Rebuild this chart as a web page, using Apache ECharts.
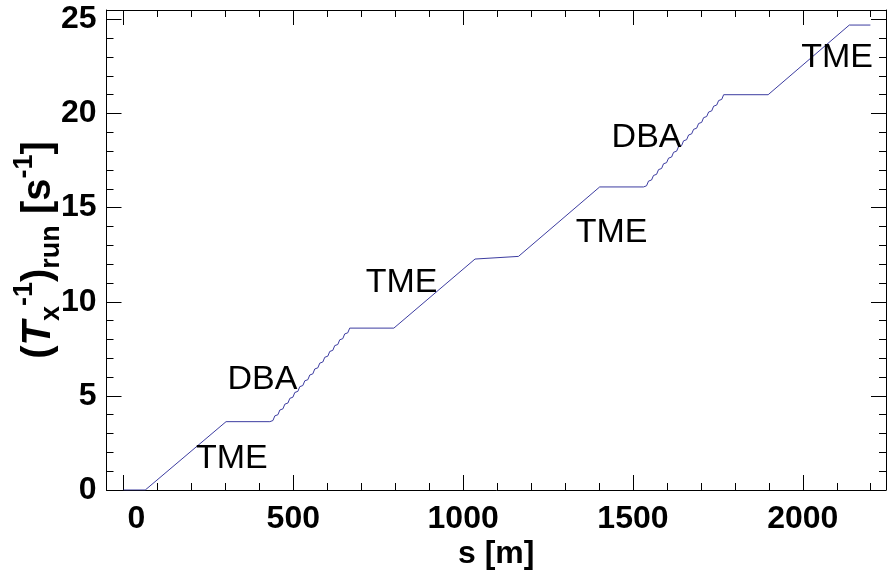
<!DOCTYPE html>
<html>
<head>
<meta charset="utf-8">
<script src="https://cdn.jsdelivr.net/npm/echarts@6/dist/echarts.min.js"></script>
<style>
html,body{margin:0;padding:0;background:#fff;}
#chart{width:892px;height:578px;}
</style>
</head>
<body>
<div id="chart"></div>
<script>
// path length s [m]
const sValues = [
  0, 64, 302, 431,
  440, 445.7, 454.7, 460.4, 469.4, 475.1, 484.1, 489.8, 498.8, 504.4, 513.4, 519.1,
  528.1, 533.8, 542.8, 548.5, 557.5, 563.2, 572.2, 577.9, 586.9, 592.6, 601.6, 607.3,
  616.3, 622.0, 631.0, 636.7, 645.7, 651.3, 660.3, 666,
  796, 1035, 1163, 1402, 1531,
  1540, 1545.8, 1554.8, 1560.5, 1569.5, 1575.3, 1584.3, 1590.0, 1599.0, 1604.8, 1613.8, 1619.5,
  1628.5, 1634.3, 1643.3, 1649.0, 1658.0, 1663.8, 1672.8, 1678.5, 1687.5, 1693.3, 1702.3, 1708.0,
  1717.0, 1722.8, 1731.8, 1737.5, 1746.5, 1752.3, 1761.3, 1767,
  1898, 2137, 2199
];
// running (T_x^-1) [s^-1]
const tValues = [
  0, 0, 3.63, 3.63,
  3.69, 3.94, 4.00, 4.25, 4.31, 4.56, 4.62, 4.87, 4.93, 5.18, 5.24, 5.49,
  5.55, 5.80, 5.86, 6.11, 6.17, 6.43, 6.49, 6.74, 6.80, 7.05, 7.11, 7.36,
  7.42, 7.67, 7.73, 7.98, 8.04, 8.29, 8.35, 8.60,
  8.60, 12.27, 12.41, 16.10, 16.10,
  16.16, 16.41, 16.47, 16.71, 16.77, 17.02, 17.08, 17.33, 17.39, 17.63, 17.69, 17.94,
  18.00, 18.24, 18.30, 18.55, 18.61, 18.86, 18.92, 19.16, 19.22, 19.47, 19.53, 19.78,
  19.84, 20.08, 20.14, 20.39, 20.45, 20.69, 20.75, 21.00,
  21.00, 24.70, 24.70
];
// annotation texts and their anchor positions (data units)
const labelTexts = ['TME', 'DBA', 'TME', 'TME', 'DBA', 'TME'];
const labelS = [319, 409, 819, 1437, 1540, 2101];
const labelT = [1.65, 5.85, 11.04, 13.67, 18.71, 22.96];

const xMin = -50, xMax = 2245;
const yMin = 0, yMax = 25.5;

const chart = echarts.init(document.getElementById('chart'), null, {renderer: 'canvas'});
const FONT = 'Liberation Sans, Arial, sans-serif';
function axisCommon() {
  return {
    axisLine: {show: true, onZero: false, lineStyle: {color: '#000', width: 1}},
    axisTick: {show: true, inside: true, length: 15, lineStyle: {color: '#000', width: 1}},
    minorTick: {show: true, splitNumber: 5, length: 7, lineStyle: {color: '#000', width: 1}},
    splitLine: {show: false},
    minorSplitLine: {show: false}
  };
}
const tickFont = {fontFamily: FONT, fontWeight: 'bold', fontSize: 32, color: '#000'};
const option = {
  animation: false,
  backgroundColor: '#fff',
  grid: {left: 106.5, right: 6, top: 10, bottom: 88, containLabel: false, outerBoundsMode: 'none'},
  xAxis: [
    Object.assign({
      type: 'value', min: xMin, max: xMax, position: 'bottom',
      axisLabel: Object.assign({show: true, showMinLabel: false, showMaxLabel: false, margin: 13,
        formatter: v => (v === 0 ? '{z|0}' : String(v)),
        rich: {z: Object.assign({padding: [0, 0, 0, 26]}, tickFont)}
      }, tickFont),
      name: 's [m]', nameLocation: 'middle', nameGap: 48, nameMoveOverlap: false,
      nameTextStyle: {fontFamily: FONT, fontWeight: 'bold', fontSize: 32, color: '#000'}
    }, axisCommon()),
    Object.assign({
      type: 'value', min: xMin, max: xMax, position: 'top',
      axisLabel: {show: false}
    }, axisCommon())
  ],
  yAxis: [
    Object.assign({
      type: 'value', min: yMin, max: yMax, interval: 5, position: 'left',
      axisLabel: Object.assign({show: true, showMaxLabel: false, margin: 10,
        formatter: v => String(v)}, tickFont),
      name: '{p|(}{it|T}{sub|x}{sup|-1}{p|)}{sub|run}{p| [s}{sup|-1}{p|]}',
      nameLocation: 'middle', nameGap: 41, nameRotate: 90, nameMoveOverlap: false,
      nameTextStyle: {
        fontFamily: FONT, fontWeight: 'bold', fontSize: 40, color: '#000',
        rich: {
          p: {fontFamily: FONT, fontWeight: 'bold', fontSize: 40, lineHeight: 54, color: '#000'},
          it: {fontFamily: FONT, fontWeight: 'bold', fontStyle: 'italic', fontSize: 40, lineHeight: 54, color: '#000'},
          sub: {fontFamily: FONT, fontWeight: 'bold', fontSize: 27, lineHeight: 30, verticalAlign: 'bottom', color: '#000'},
          sup: {fontFamily: FONT, fontWeight: 'bold', fontSize: 27, lineHeight: 30, verticalAlign: 'top', color: '#000'}
        }
      }
    }, axisCommon()),
    Object.assign({
      type: 'value', min: yMin, max: yMax, interval: 5, position: 'right',
      axisLabel: {show: false}
    }, axisCommon())
  ],
  series: [
    {
      type: 'line',
      xAxisIndex: 0, yAxisIndex: 0,
      data: sValues.map((s, i) => [s, tValues[i]]),
      showSymbol: false, symbol: 'none',
      lineStyle: {color: '#3c3ca0', width: 1},
      silent: true, z: 2
    },
    {
      type: 'scatter',
      xAxisIndex: 0, yAxisIndex: 0,
      symbolSize: 0,
      itemStyle: {opacity: 1},
      data: labelTexts.map((t, i) => ({name: t, value: [labelS[i], labelT[i]]})),
      label: {show: true, position: [0, 0], align: 'center', verticalAlign: 'middle',
        formatter: p => p.name, opacity: 1,
        fontFamily: FONT, fontSize: 34, color: '#000', textBorderWidth: 0},
      silent: true, z: 5
    }
  ]
};
chart.setOption(option);
</script>
</body>
</html>
